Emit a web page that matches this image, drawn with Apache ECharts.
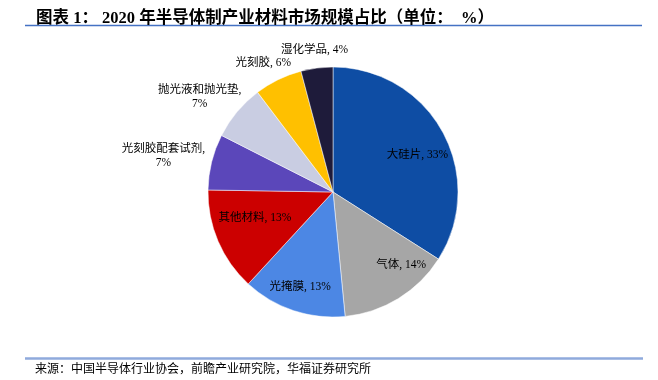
<!DOCTYPE html>
<html><head><meta charset="utf-8">
<script src="https://cdn.jsdelivr.net/npm/echarts@6/dist/echarts.min.js"></script>
<style>html,body{margin:0;padding:0;background:#fff}#c{width:658px;height:380px}</style>
</head><body><div id="c"></div>
<script>
var categories = ['大硅片','气体','光掩膜','其他材料','光刻胶配套试剂','抛光液和抛光垫','光刻胶','湿化学品'];
var values = [33,14,13,13,7,7,6,4];
var colors = ['#0E4DA4','#A6A6A6','#4C87E4','#CC0000','#5B47BA','#C9CDE2','#FFC000','#1E1B3A'];
var twoLine = [false,false,false,false,true,true,false,false];
var labelShift = [[27,-5],[34,17],[-12,33],[-18,0],[-106,-20],[-83,-53],[-41,-70],[-10,-77]];

var ff = "'Liberation Serif','Noto Sans CJK SC',serif";
var chart = echarts.init(document.getElementById('c'));
chart.setOption({
  animation:false,
  title:{
    text:'图表 1： 2020 年半导体制产业材料市场规模占比（单位：  %）',
    left:31, top:5,
    textStyle:{fontFamily:ff,fontSize:16.5,fontWeight:'bold',color:'#000'}
  },
  graphic:[
    {type:'line',shape:{x1:25,y1:25.5,x2:642,y2:25.5},style:{stroke:'#4472C4',lineWidth:1.5}},
    {type:'line',shape:{x1:25,y1:358.5,x2:643,y2:358.5},style:{stroke:'#8FAADC',lineWidth:2.5}},
    {type:'text',left:35,top:362,style:{text:'来源：中国半导体行业协会，前瞻产业研究院，华福证券研究所',font:"12px 'Noto Sans CJK SC'",fill:'#000'}}
  ],
  series:[{
    type:'pie',
    center:[333,192],
    radius:125,
    startAngle:90,
    clockwise:true,
    avoidLabelOverlap:false,
    labelLine:{show:false},
    itemStyle:{borderColor:'#ffffff',borderWidth:0.5},
    label:{
      show:true, position:'inside',
      fontFamily:ff, fontSize:11.5, color:'#000', lineHeight:14, align:'center',
      formatter:function(p){ return twoLine[p.dataIndex] ? p.name + ',\n' + p.value + '%' : p.name + ', ' + p.value + '%'; }
    },
    labelLayout:function(p){ var s = labelShift[p.dataIndex]; return {dx:s[0], dy:s[1]}; },
    data:categories.map(function(n,i){ return {name:n,value:values[i],itemStyle:{color:colors[i]}}; })
  }]
});
</script></body></html>
